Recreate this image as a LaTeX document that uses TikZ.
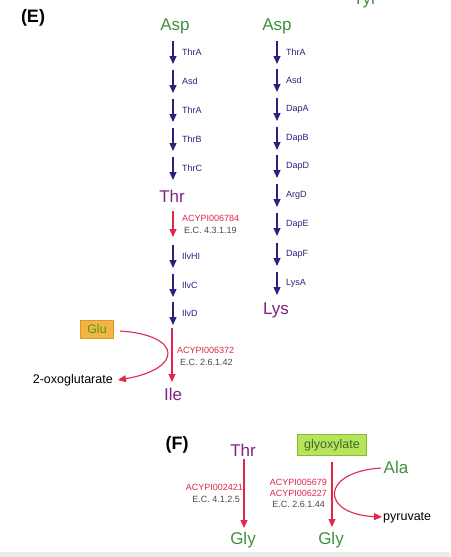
\documentclass[tikz,border=0pt]{standalone}
\usepackage{fontspec}
\setmainfont{Liberation Sans}
\usetikzlibrary{arrows.meta}
\definecolor{cgreen}{HTML}{3D9140}
\definecolor{cpurple}{HTML}{7E2382}
\definecolor{cblue}{HTML}{28237F}
\definecolor{cred}{HTML}{E0284A}
\definecolor{cgray}{HTML}{4A4A4A}
\definecolor{corange}{HTML}{F2B443}
\definecolor{corangeb}{HTML}{D89A2A}
\definecolor{cglutxt}{HTML}{4E9A1E}
\definecolor{clime}{HTML}{B6E45A}
\definecolor{climeb}{HTML}{8CB83A}
\definecolor{cglytxt}{HTML}{3A6A2A}
\definecolor{cbar}{HTML}{EBEBEB}
\begin{document}
\begin{tikzpicture}[x=1pt,y=-1pt,
  met/.style={font=\fontsize{17}{17}\selectfont, inner sep=0pt},
  grn/.style={met, text=cgreen},
  prp/.style={met, text=cpurple},
  enz/.style={font=\fontsize{9}{9}\selectfont, text=cblue, anchor=west, inner sep=0pt},
  acy/.style={font=\fontsize{9}{9}\selectfont, text=cred, inner sep=0pt},
  ecn/.style={font=\fontsize{9}{9}\selectfont, text=cgray, inner sep=0pt},
  small/.style={font=\fontsize{12.5}{13}\selectfont, inner sep=0pt},
  panel/.style={font=\fontsize{18}{18}\selectfont\bfseries, inner sep=0pt},
  blarr/.style={draw=cblue, line width=1.1pt, -{Triangle[length=8pt,width=7pt]}},
  rdarr/.style={draw=cred, line width=1.1pt, -{Triangle[length=8pt,width=7pt]}},
]
\useasboundingbox (0,0) rectangle (450,557);
\fill[white] (0,0) rectangle (450,557);
\fill[cbar] (0,552) rectangle (450,557);

% panel labels
\node[panel] (E) at (33,18) {(E)};
\node[panel] (F) at (177,445) {(F)};

% partial Tyr at top (cut off by the top edge, as in the reference)
\node[grn, anchor=base] (tyr) at (365,4) {Tyr};

% left column
\node[grn] (asp1) at (175,26) {Asp};
\foreach \n/\t/\y in {1/ThrA/52, 2/Asd/81, 3/ThrA/110, 4/ThrB/139, 5/ThrC/168, 6/IlvHI/256, 7/IlvC/285, 8/IlvD/313}{
  \coordinate (La\n) at (173,\y-11);
  \coordinate (Lb\n) at (173,\y+12);
  \draw[blarr] (La\n) -- (Lb\n);
  \node[enz] (Ll\n) at (182,\y) {\t};
}
\node[prp] (thr1) at (172,196) {Thr};
\coordinate (r1a) at (173,211);
\coordinate (r1b) at (173,237);
\draw[rdarr] (r1a) -- (r1b);
\node[acy, anchor=west] (acy1) at (182,218) {ACYPI006784};
\node[ecn, anchor=west] (ec1) at (184,230) {E.C. 4.3.1.19};

\coordinate (r2a) at (172,328);
\coordinate (r2b) at (172,382);
\draw[rdarr] (r2a) -- (r2b);
\node[acy, anchor=west] (acy2) at (177,350) {ACYPI006372};
\node[ecn, anchor=west] (ec2) at (180,362) {E.C. 2.6.1.42};
\node[prp] (ile) at (173,394) {Ile};

\node[small, text=cglutxt, fill=corange, draw=corangeb, line width=0.5pt,
      minimum width=33pt, minimum height=18pt] (glu) at (97,329) {Glu};
\node[small, anchor=east] (oxo) at (113,380) {2-oxoglutarate};
\coordinate (gluS) at (120,331);
\coordinate (oxoE) at (118,380);
\draw[rdarr] (gluS) .. controls (183,335) and (183,369) .. (oxoE);

% right column
\node[grn] (asp2) at (277,26) {Asp};
\foreach \n/\t/\y in {1/ThrA/52, 2/Asd/80, 3/DapA/109, 4/DapB/138, 5/DapD/166, 6/ArgD/195, 7/DapE/224, 8/DapF/254, 9/LysA/283}{
  \coordinate (Ra\n) at (277,\y-11);
  \coordinate (Rb\n) at (277,\y+12);
  \draw[blarr] (Ra\n) -- (Rb\n);
  \node[enz] (Rl\n) at (286,\y) {\t};
}
\node[prp] (lys) at (276,310) {Lys};

% panel F
\node[prp] (thr2) at (243,450) {Thr};
\coordinate (r3a) at (244,459);
\coordinate (r3b) at (244,528);
\draw[rdarr] (r3a) -- (r3b);
\node[acy, anchor=east] (acy3) at (243,487) {ACYPI002421};
\node[ecn, anchor=east] (ec3) at (240,499) {E.C. 4.1.2.5};
\node[grn] (gly1) at (243,540) {Gly};

\node[small, text=cglytxt, fill=clime, draw=climeb, line width=0.5pt,
      minimum width=69pt, minimum height=21pt] (glyox) at (332,445) {glyoxylate};
\coordinate (r4a) at (332,462);
\coordinate (r4b) at (332,527);
\draw[rdarr] (r4a) -- (r4b);
\node[acy, anchor=east] (acy4) at (327,482) {ACYPI005679};
\node[acy, anchor=east] (acy5) at (327,493) {ACYPI006227};
\node[ecn, anchor=east] (ec4) at (325,504) {E.C. 2.6.1.44};
\node[grn] (gly2) at (331,540) {Gly};

\node[grn] (ala) at (396,467) {Ala};
\node[small, anchor=west] (pyr) at (383,518) {pyruvate};
\coordinate (alaW) at (381,468);
\coordinate (pyrW) at (382,517);
\draw[rdarr] (alaW) .. controls (320,472) and (320,514) .. (pyrW);
\end{tikzpicture}
\end{document}
